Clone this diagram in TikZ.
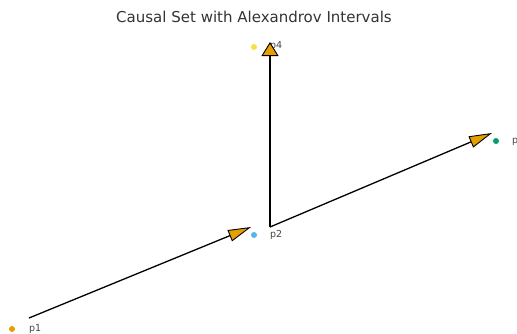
\documentclass[tikz,border=0pt]{standalone}
\usepackage{fontspec}
\setmainfont{DejaVu Sans}
\usetikzlibrary{arrows.meta}
\definecolor{okorange}{HTML}{E69F00}
\definecolor{okblue}{HTML}{56B4E9}
\definecolor{okgreen}{HTML}{009E73}
\definecolor{okyellow}{HTML}{F0E442}
\definecolor{txtgray}{HTML}{444444}
\definecolor{titlegray}{HTML}{333333}
\tikzset{
  pt/.style={circle, inner sep=0pt, minimum size=6pt},
  lbl/.style={anchor=base west, inner sep=0pt, text=txtgray, font=\fontsize{9.5}{11}\selectfont},
  diagarrow/.style={draw=black, line width=1.3pt, -{Triangle[length=23pt, width=12pt, fill=okorange, line width=0.9pt]}},
  vertarrow/.style={draw=black, line width=1.3pt, -{Triangle[length=14pt, width=17pt, fill=okorange, line width=0.9pt]}},
}
\begin{document}
\begin{tikzpicture}[x=1pt, y=-1pt]
\useasboundingbox (0,0) rectangle (517,333);
\node[text=titlegray, font=\fontsize{15}{17}\selectfont] (title) at (254,17) {Causal Set with Alexandrov Intervals};
% points
\node[pt, fill=okorange] (p1) at (12,329) {};
\node[pt, fill=okblue] (p2) at (254,235) {};
\node[pt, fill=okgreen] (p3) at (496,141) {};
\node[pt, fill=okyellow] (p4) at (254,47) {};
% labels
\node[lbl] (l1) at (29,331) {p1};
\node[lbl] (l2) at (270,237) {p2};
\node[lbl] (l3) at (512,143) {p3};
\node[lbl] (l4) at (270,48) {p4};
% arrow ends
\coordinate (a1s) at (29,318);
\coordinate (a1e) at (251,227);
\coordinate (a2s) at (270,227);
\coordinate (a2e) at (270,42);
\coordinate (a3e) at (492,133);
\draw[diagarrow] (a1s) -- (a1e);
\draw[vertarrow] (a2s) -- (a2e);
\draw[diagarrow] (a2s) -- (a3e);
\end{tikzpicture}
\end{document}
